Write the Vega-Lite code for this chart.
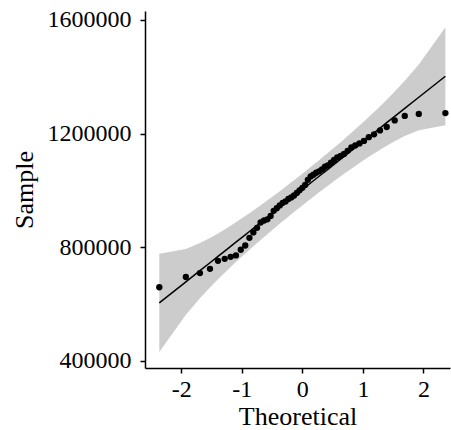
{
  "$schema": "https://vega.github.io/schema/vega-lite/v6.json",
  "width": 305,
  "height": 357,
  "autosize": {"type": "none"},
  "padding": {"left": 145, "top": 11, "right": 1, "bottom": 62},
  "background": "white",
  "config": {
    "view": {"stroke": null},
    "axis": {
      "grid": false,
      "labelFont": "Liberation Serif",
      "labelFontSize": 24,
      "labelColor": "black",
      "titleFont": "Liberation Serif",
      "titleFontSize": 26,
      "titleFontWeight": "normal",
      "titleColor": "black",
      "domainColor": "black",
      "domainWidth": 1.5,
      "tickColor": "black",
      "tickWidth": 1.5,
      "tickSize": 5
    }
  },
  "data": {
    "values": [
      {"t": -2.362, "s": 659000, "fit": 603980, "lo": 431330, "hi": 776630},
      {"t": -1.923, "s": 695000, "fit": 678100, "lo": 562440, "hi": 793760},
      {"t": -1.691, "s": 709000, "fit": 717280, "lo": 620030, "hi": 814530},
      {"t": -1.525, "s": 724000, "fit": 745300, "lo": 658020, "hi": 832580},
      {"t": -1.393, "s": 752000, "fit": 767590, "lo": 686760, "hi": 848420},
      {"t": -1.282, "s": 759000, "fit": 786330, "lo": 710110, "hi": 862550},
      {"t": -1.184, "s": 766000, "fit": 802880, "lo": 730150, "hi": 875610},
      {"t": -1.097, "s": 771000, "fit": 817570, "lo": 747570, "hi": 887570},
      {"t": -1.017, "s": 791000, "fit": 831080, "lo": 763330, "hi": 898830},
      {"t": -0.943, "s": 806000, "fit": 843570, "lo": 777660, "hi": 909480},
      {"t": -0.874, "s": 833000, "fit": 855230, "lo": 790880, "hi": 919580},
      {"t": -0.809, "s": 852000, "fit": 866200, "lo": 803150, "hi": 929250},
      {"t": -0.748, "s": 868000, "fit": 876500, "lo": 814520, "hi": 938480},
      {"t": -0.689, "s": 887000, "fit": 886460, "lo": 825460, "hi": 947460},
      {"t": -0.632, "s": 894000, "fit": 896090, "lo": 835960, "hi": 956220},
      {"t": -0.577, "s": 898000, "fit": 905370, "lo": 845970, "hi": 964770},
      {"t": -0.524, "s": 910000, "fit": 914320, "lo": 855550, "hi": 973090},
      {"t": -0.473, "s": 928000, "fit": 922930, "lo": 864710, "hi": 981150},
      {"t": -0.422, "s": 937000, "fit": 931550, "lo": 873820, "hi": 989280},
      {"t": -0.373, "s": 947000, "fit": 939820, "lo": 882500, "hi": 997140},
      {"t": -0.324, "s": 956000, "fit": 948090, "lo": 891140, "hi": 1005040},
      {"t": -0.277, "s": 961000, "fit": 956030, "lo": 899350, "hi": 1012710},
      {"t": -0.230, "s": 970000, "fit": 963960, "lo": 907530, "hi": 1020390},
      {"t": -0.183, "s": 975000, "fit": 971900, "lo": 915680, "hi": 1028120},
      {"t": -0.137, "s": 982000, "fit": 979670, "lo": 923600, "hi": 1035740},
      {"t": -0.091, "s": 991000, "fit": 987430, "lo": 931470, "hi": 1043390},
      {"t": -0.046, "s": 1000000, "fit": 995030, "lo": 939120, "hi": 1050940},
      {"t": 0.000, "s": 1009000, "fit": 1002800, "lo": 946920, "hi": 1058680},
      {"t": 0.046, "s": 1019000, "fit": 1010570, "lo": 954660, "hi": 1066480},
      {"t": 0.091, "s": 1037000, "fit": 1018170, "lo": 962210, "hi": 1074130},
      {"t": 0.137, "s": 1049000, "fit": 1025930, "lo": 969860, "hi": 1082000},
      {"t": 0.183, "s": 1055000, "fit": 1033700, "lo": 977480, "hi": 1089920},
      {"t": 0.230, "s": 1062000, "fit": 1041640, "lo": 985210, "hi": 1098070},
      {"t": 0.277, "s": 1067000, "fit": 1049570, "lo": 992890, "hi": 1106250},
      {"t": 0.324, "s": 1074000, "fit": 1057510, "lo": 1000560, "hi": 1114460},
      {"t": 0.373, "s": 1083000, "fit": 1065780, "lo": 1008460, "hi": 1123100},
      {"t": 0.422, "s": 1088000, "fit": 1074050, "lo": 1016320, "hi": 1131780},
      {"t": 0.473, "s": 1097000, "fit": 1082670, "lo": 1024450, "hi": 1140890},
      {"t": 0.524, "s": 1107000, "fit": 1091280, "lo": 1032510, "hi": 1150050},
      {"t": 0.577, "s": 1116000, "fit": 1100230, "lo": 1040830, "hi": 1159630},
      {"t": 0.632, "s": 1121000, "fit": 1109510, "lo": 1049380, "hi": 1169640},
      {"t": 0.689, "s": 1128000, "fit": 1119140, "lo": 1058140, "hi": 1180140},
      {"t": 0.748, "s": 1139000, "fit": 1129100, "lo": 1067120, "hi": 1191080},
      {"t": 0.809, "s": 1151000, "fit": 1139400, "lo": 1076350, "hi": 1202450},
      {"t": 0.874, "s": 1158000, "fit": 1150370, "lo": 1086020, "hi": 1214720},
      {"t": 0.943, "s": 1165000, "fit": 1162030, "lo": 1096120, "hi": 1227940},
      {"t": 1.017, "s": 1174000, "fit": 1174520, "lo": 1106770, "hi": 1242270},
      {"t": 1.097, "s": 1187000, "fit": 1188030, "lo": 1118030, "hi": 1258030},
      {"t": 1.184, "s": 1197000, "fit": 1202720, "lo": 1129990, "hi": 1275450},
      {"t": 1.282, "s": 1211000, "fit": 1219270, "lo": 1143050, "hi": 1295490},
      {"t": 1.393, "s": 1223000, "fit": 1238010, "lo": 1157180, "hi": 1318840},
      {"t": 1.525, "s": 1246000, "fit": 1260300, "lo": 1173020, "hi": 1347580},
      {"t": 1.691, "s": 1262000, "fit": 1288320, "lo": 1191070, "hi": 1385570},
      {"t": 1.923, "s": 1269000, "fit": 1327500, "lo": 1211840, "hi": 1443160},
      {"t": 2.362, "s": 1272000, "fit": 1401620, "lo": 1228970, "hi": 1574270}
    ]
  },
  "encoding": {
    "x": {
      "field": "t",
      "type": "quantitative",
      "title": "Theoretical",
      "scale": {"domain": [-2.598, 2.438], "nice": false, "zero": false},
      "axis": {"values": [-2, -1, 0, 1, 2], "labelExpr": "datum.value + ''", "labelPadding": 4, "titlePadding": 2}
    }
  },
  "layer": [
    {
      "mark": {"type": "area", "color": "#cccccc", "opacity": 1},
      "encoding": {
        "y": {
          "field": "lo",
          "type": "quantitative",
          "title": "Sample",
          "scale": {"domain": [374900, 1631100], "nice": false, "zero": false},
          "axis": {"values": [400000, 800000, 1200000, 1600000], "labelExpr": "datum.value + ''", "labelPadding": 9, "titlePadding": 10}
        },
        "y2": {"field": "hi"}
      }
    },
    {
      "mark": {"type": "line", "color": "black", "strokeWidth": 1.5},
      "encoding": {"y": {"field": "fit", "type": "quantitative"}}
    },
    {
      "mark": {"type": "circle", "color": "black", "opacity": 1, "size": 40},
      "encoding": {"y": {"field": "s", "type": "quantitative"}}
    }
  ]
}
